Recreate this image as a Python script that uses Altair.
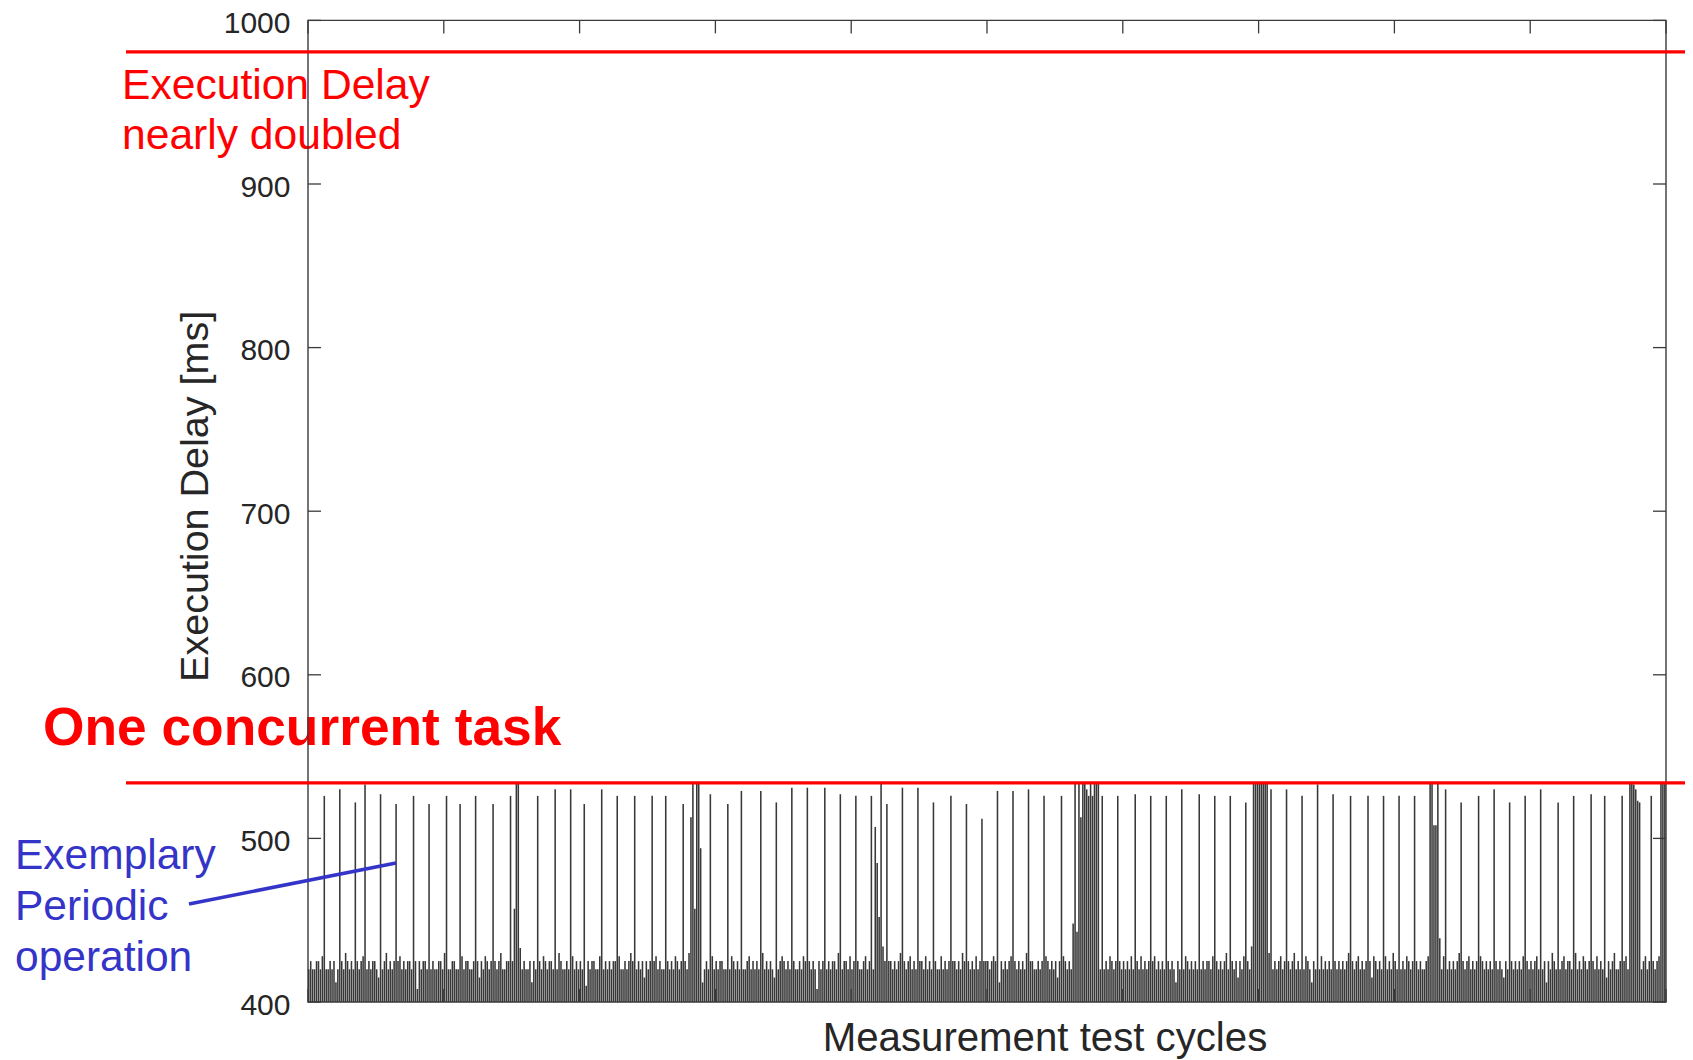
import altair as alt
import pandas as pd

FONT = "Liberation Sans"
INK = "#262626"
RED = "#ff0000"
BLUE = "#3434c8"

N_CYCLES = 700

# measured execution delay per test cycle (ms) - regular level
baseline_ms = [
    420,425,420,420,425, 425,420,428,425,420, 420,425,420,425,412, 420,425,425,420,430, 425,420,425,420,420,
    425,420,425,428,420, 420,425,420,425,425, 420,415,425,420,425, 430,420,425,420,425, 420,425,428,420,425,
    420,425,425,420,420, 425,408,425,420,425, 425,420,428,420,425, 420,420,425,425,420, 430,425,420,420,425,
    425,420,420,425,428, 420,425,425,420,420, 425,420,425,415,425, 420,428,425,420,425, 420,425,420,425,430,
    420,420,425,425,420, 425,420,428,420,425, 420,425,420,420,425, 412,425,420,425,425, 420,428,425,420,425,
    425,420,425,420,430, 425,420,420,425,420, 425,428,420,425,420, 425,420,425,410,425, 420,425,425,420,420,
    428,425,420,425,420, 425,420,425,425,420, 428,420,420,425,420, 425,430,425,420,420, 425,420,425,415,425,
    420,425,420,425,428, 420,425,420,420,425, 425,420,425,420,428, 425,420,425,420,425, 420,430,425,420,425,
    425,420,425,412,420, 425,420,425,428,420, 425,420,425,425,420, 420,425,420,428,425, 420,425,420,425,420,
    420,425,428,420,425, 420,425,420,425,430, 420,425,420,425,420, 415,425,420,425,428, 425,420,425,420,425,
    425,420,420,425,420, 428,425,420,425,420, 425,420,408,425,420, 425,428,420,425,420, 425,425,420,430,420,
    420,425,425,420,428, 420,425,420,425,420, 420,425,428,420,425, 425,420,425,420,412, 425,420,425,428,425,
    425,420,425,420,425, 430,420,425,420,425, 428,420,425,420,420, 425,425,420,428,420, 425,420,415,425,420,
    420,428,420,425,420, 425,420,425,425,420, 425,420,430,425,420, 425,420,425,420,428, 420,425,420,425,425,
    425,420,425,428,425, 420,412,425,420,425, 420,425,428,420,425, 420,425,420,425,420, 430,420,425,425,420,
    420,425,420,425,420, 428,425,420,425,420, 425,415,425,420,428, 425,420,425,420,425, 420,425,428,420,425,
    428,420,425,420,425, 420,425,430,420,425, 420,425,420,428,425, 420,425,408,425,420, 425,420,425,420,428,
    420,425,425,420,428, 420,425,420,425,420, 425,428,420,425,420, 425,420,430,425,420, 425,420,412,425,420,
    425,420,428,425,420, 425,420,425,420,428, 420,425,420,425,425, 420,428,420,425,420, 425,420,425,430,420,
    420,425,420,425,415, 425,420,428,420,425, 420,425,420,425,428, 420,425,420,425,420, 430,425,420,425,420,
    425,428,420,425,420, 425,420,425,430,420, 425,420,425,420,428, 425,420,412,425,420, 425,420,428,420,425,
    420,425,420,428,425, 420,425,420,425,420, 425,430,420,425,420, 425,428,420,425,420, 425,420,425,415,428,
    425,420,425,420,425, 428,420,425,420,430, 425,420,425,420,425, 420,428,425,420,425, 420,425,420,425,420,
    420,425,428,420,425, 420,425,408,425,420, 428,425,420,425,420, 425,420,425,430,420, 425,420,425,428,420,
    425,420,425,420,428, 425,420,425,420,425, 420,430,425,420,425, 420,415,425,420,428, 425,420,425,420,425,
    420,428,420,425,420, 425,420,425,428,420, 425,420,425,412,425, 420,430,425,420,425, 420,425,428,420,425,
    425,420,425,430,420, 425,420,428,425,420, 425,420,425,420,428, 420,425,420,425,415, 425,420,425,430,420,
    420,425,420,425,428, 420,425,420,425,420, 430,425,420,425,428, 420,425,420,425,420, 425,428,420,425,420,
]

# cycles with the periodic operation / concurrent-task peaks
spike_cycle = [
    8, 16, 24, 29, 37, 45, 54, 62, 71, 78,
    86, 95, 104, 106, 107, 108, 109, 118, 127, 135,
    142, 151, 159, 168, 177, 184, 193, 197, 198, 199,
    200, 201, 202, 207, 216, 223, 233, 241, 249, 257,
    266, 274, 282, 290, 292, 293, 294, 295, 296, 298,
    306, 314, 322, 331, 339, 347, 355, 363, 371, 379,
    388, 394, 395, 396, 397, 398, 399, 400, 401, 402,
    403, 404, 405, 406, 407, 409, 417, 426, 434, 442,
    450, 459, 467, 475, 483, 486, 487, 488, 489, 490,
    491, 492, 493, 494, 496, 504, 512, 520, 528, 537,
    546, 554, 562, 570, 578, 579, 580, 581, 582, 583,
    586, 594, 603, 611, 619, 627, 635, 644, 652, 661,
    668, 677, 681, 682, 683, 684, 685, 686, 692, 697,
    698, 699,
]
spike_ms = [
    526, 530, 522, 533, 527, 521, 526, 521, 526, 521,
    526, 521, 526, 457, 534, 534, 433, 526, 530, 530,
    521, 530, 526, 526, 526, 526, 521, 513, 534, 457,
    534, 534, 494, 527, 521, 529, 529, 522, 531, 531,
    531, 527, 526, 526, 507, 485, 452, 534, 434, 521,
    531, 531, 522, 526, 521, 512, 529, 529, 530, 526,
    526, 448, 534, 443, 534, 513, 534, 534, 530, 526,
    534, 526, 534, 534, 534, 526, 526, 527, 526, 526,
    530, 527, 526, 526, 522, 434, 534, 534, 534, 534,
    534, 534, 534, 534, 530, 530, 526, 533, 527, 526,
    526, 526, 526, 526, 534, 534, 508, 508, 534, 439,
    530, 522, 526, 530, 522, 526, 530, 522, 526, 527,
    526, 526, 534, 534, 533, 530, 523, 522, 526, 534,
    534, 534,
]

y_tick_values = [400, 500, 600, 700, 800, 900, 1000]
x_tick_values = [0, 70, 140, 210, 280, 350, 420, 490, 560, 630, 700]
reference_lines_ms = [980.8, 534]

delay = list(baseline_ms[:N_CYCLES])
for c, v in zip(spike_cycle, spike_ms):
    if c < len(delay):
        delay[c] = v
df = pd.DataFrame({"cycle": list(range(len(delay))), "delay": delay})

W = 1358
H = 981.6

xscale = alt.Scale(domain=[0, N_CYCLES], nice=False, zero=False)
yscale = alt.Scale(domain=[400, 1000], nice=False, zero=False)
yaxis = alt.Axis(values=y_tick_values, format="d", ticks=False, tickSize=0, domain=False, grid=False,
                 labelFontSize=30, labelPadding=18, labelOffset=3, labelColor=INK, labelFont=FONT,
                 title=None)

bars = alt.Chart(df).transform_calculate(c2="datum.cycle + 0.8").mark_rect(
    color="#383838"
).encode(
    x=alt.X("cycle:Q", scale=xscale, axis=None),
    x2="c2:Q",
    y=alt.Y("delay:Q", scale=yscale, axis=yaxis),
    y2=alt.datum(400),
)

yt = pd.DataFrame({"v": y_tick_values})
xt = pd.DataFrame({"t": x_tick_values})
TICK = 13
tick_style = dict(color="#3a3a3a", strokeWidth=1.3)

left_ticks = alt.Chart(yt).mark_rule(**tick_style).encode(
    y=alt.Y("v:Q", scale=yscale, axis=yaxis), x=alt.value(0), x2=alt.value(TICK))
right_ticks = alt.Chart(yt).mark_rule(**tick_style).encode(
    y=alt.Y("v:Q", scale=yscale, axis=yaxis), x=alt.value(W - TICK), x2=alt.value(W))
top_ticks = alt.Chart(xt).mark_rule(**tick_style).encode(
    x=alt.X("t:Q", scale=xscale, axis=None), y=alt.value(0), y2=alt.value(TICK))
bottom_ticks = alt.Chart(xt).mark_rule(**tick_style).encode(
    x=alt.X("t:Q", scale=xscale, axis=None), y=alt.value(H - TICK), y2=alt.value(H))

one = pd.DataFrame({"a": [0]})


def label(text, x, y, size, color, weight="normal", angle=0, align="left", baseline="alphabetic"):
    return alt.Chart(one).mark_text(
        text=text, font=FONT, fontSize=size, color=color, fontWeight=weight,
        align=align, baseline=baseline, angle=angle,
    ).encode(x=alt.value(x), y=alt.value(y))


texts = [
    label("Execution Delay", -186, 78.6, 42.6, RED),
    label("nearly doubled", -186, 128.6, 42.6, RED),
    label("One concurrent task", -265, 724.6, 53.3, RED, weight="bold"),
    label("Exemplary", -293, 848.6, 42.5, BLUE),
    label("Periodic", -293, 899.6, 42.5, BLUE),
    label("operation", -293, 950.6, 42.5, BLUE),
    label("Execution Delay [ms]", -112, 476, 39.5, INK, angle=270, align="center", baseline="middle"),
    label("Measurement test cycles", 737, 1031, 40.2, INK, align="center"),
]

frame = alt.Chart(one).mark_rect(filled=False, stroke="#3a3a3a", strokeWidth=1.4).encode(
    x=alt.value(0), x2=alt.value(W), y=alt.value(0), y2=alt.value(H))

red_lines = alt.Chart(pd.DataFrame({"v": reference_lines_ms})).mark_rule(
    color=RED, strokeWidth=3.3
).encode(
    y=alt.Y("v:Q", scale=yscale, axis=yaxis), x=alt.value(-182), x2=alt.value(W + 40))

blue_line = alt.Chart(one).mark_rule(color=BLUE, strokeWidth=3.5).encode(
    x=alt.value(-119), y=alt.value(883.6), x2=alt.value(88), y2=alt.value(842.6))

chart = alt.layer(
    bars, left_ticks, right_ticks, top_ticks, bottom_ticks, *texts, frame, red_lines, blue_line
).properties(
    width=W, height=H,
    padding={"left": 300, "top": 12.4, "right": 19, "bottom": 64},
    autosize=alt.AutoSizeParams(type="none"),
    background="white",
).configure_view(stroke=None)

chart.save("out.html", embed_options={"renderer": "svg", "actions": False})
